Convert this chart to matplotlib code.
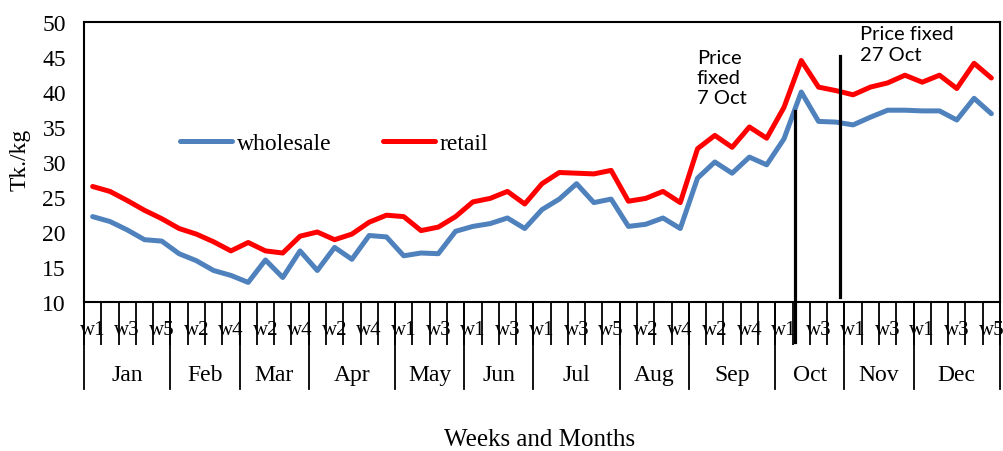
import numpy as np
import matplotlib
matplotlib.use('Agg')
import matplotlib.pyplot as plt

plt.rcParams['font.family'] = ['Liberation Serif', 'DejaVu Serif']

months = ['Jan', 'Feb', 'Mar', 'Apr', 'May', 'Jun', 'Jul', 'Aug', 'Sep', 'Oct', 'Nov', 'Dec']
weeks_in_month = [5, 4, 4, 5, 4, 4, 5, 4, 5, 4, 4, 5]

wholesale = [22.2, 21.5, 20.3, 18.9, 18.7, 16.9, 15.9, 14.5, 13.8, 12.8,
             16.0, 13.5, 17.3, 14.5, 17.8, 16.1, 19.5, 19.3, 16.6, 17.0,
             16.9, 20.1, 20.8, 21.2, 22.0, 20.5, 23.2, 24.7, 26.9, 24.2,
             24.7, 20.8, 21.1, 22.0, 20.5, 27.7, 30.0, 28.4, 30.7, 29.6,
             33.3, 40.0, 35.8, 35.7, 35.3, 36.4, 37.4, 37.4, 37.3, 37.3,
             36.0, 39.1, 36.9]
retail = [26.5, 25.8, 24.5, 23.1, 21.9, 20.5, 19.7, 18.6, 17.3, 18.5,
          17.3, 17.0, 19.4, 20.0, 18.9, 19.7, 21.4, 22.4, 22.2, 20.2,
          20.7, 22.2, 24.3, 24.8, 25.8, 24.0, 26.9, 28.5, 28.4, 28.3,
          28.8, 24.4, 24.8, 25.8, 24.2, 31.9, 33.8, 32.1, 35.0, 33.4,
          37.8, 44.5, 40.7, 40.2, 39.6, 40.7, 41.3, 42.4, 41.4, 42.4,
          40.5, 44.1, 42.0]

# price fixing events: (x position in weeks, line bottom, line top, label)
fix_x = [40.65, 43.25]
fix_bottom = [4.3, 10.7]
fix_top = [37.3, 45.1]
fix_labels = ['Price\nfixed\n7 Oct', 'Price fixed\n27 Oct']
fix_label_pos = [(34.95, 46.1), (44.4, 49.5)]

week_labels = []
for n in weeks_in_month:
    week_labels += ['w%d' % (k + 1) for k in range(n)]
x = np.arange(len(wholesale))

fig = plt.figure(figsize=(10.04, 4.52), dpi=100)
ax = fig.add_axes([84 / 1004, 1 - 303 / 452, 916 / 1004, 280 / 452])

ax.plot(x, wholesale, color='#4F81BD', lw=3.6, label='wholesale', solid_capstyle='round')
ax.plot(x, retail, color='#FF0000', lw=3.6, label='retail', solid_capstyle='round')

ax.set_xlim(-0.5, len(x) - 0.5)
ax.set_ylim(10, 50)
ax.set_yticks(np.arange(10, 51, 5))
ax.tick_params(axis='y', length=0, pad=13, labelsize=17)

for s in ax.spines.values():
    s.set_linewidth(1.5)
    s.set_color('black')

# week ticks between categories
ax.set_xticks(np.arange(-0.5, len(x), 1), minor=True)
ax.set_xticks([])
ax.tick_params(axis='x', which='minor', length=31, width=1.3, direction='out', color='black')

tr = ax.get_xaxis_transform()
for i, lab in enumerate(week_labels):
    if i % 2 == 0:
        ax.text(i, -0.097, lab, transform=tr, ha='center', va='center', fontsize=15)

# month separators and labels
bounds = np.concatenate([[0], np.cumsum(weeks_in_month)]) - 0.5
for b in bounds:
    ax.plot([b, b], [0, -0.311], transform=tr, color='black', lw=1.3, clip_on=False)
for m, a, b in zip(months, bounds[:-1], bounds[1:]):
    ax.text((a + b) / 2, -0.258, m, transform=tr, ha='center', va='center', fontsize=17)

for xv, y0, y1 in zip(fix_x, fix_bottom, fix_top):
    ax.plot([xv, xv], [y0, y1], color='black', lw=2.3, clip_on=False)
for lab, (tx, ty) in zip(fix_labels, fix_label_pos):
    ax.text(tx, ty, lab, ha='left', va='top', fontsize=14.5, family='Lato', linespacing=1.22)

ax.legend(loc='center left', bbox_to_anchor=(180 / 1004, 1 - 144 / 452),
          bbox_transform=fig.transFigure, ncol=2, frameon=False, fontsize=17,
          handlelength=2.2, handletextpad=0.2, columnspacing=2.2,
          borderpad=0, borderaxespad=0)

fig.text(20 / 1004, 1 - 160 / 452, 'Tk./kg', rotation=90, ha='center', va='center', fontsize=17)
fig.text(540 / 1004, 1 - 440 / 452, 'Weeks and Months', ha='center', va='center', fontsize=18)

fig.savefig('out.png', dpi=100)
